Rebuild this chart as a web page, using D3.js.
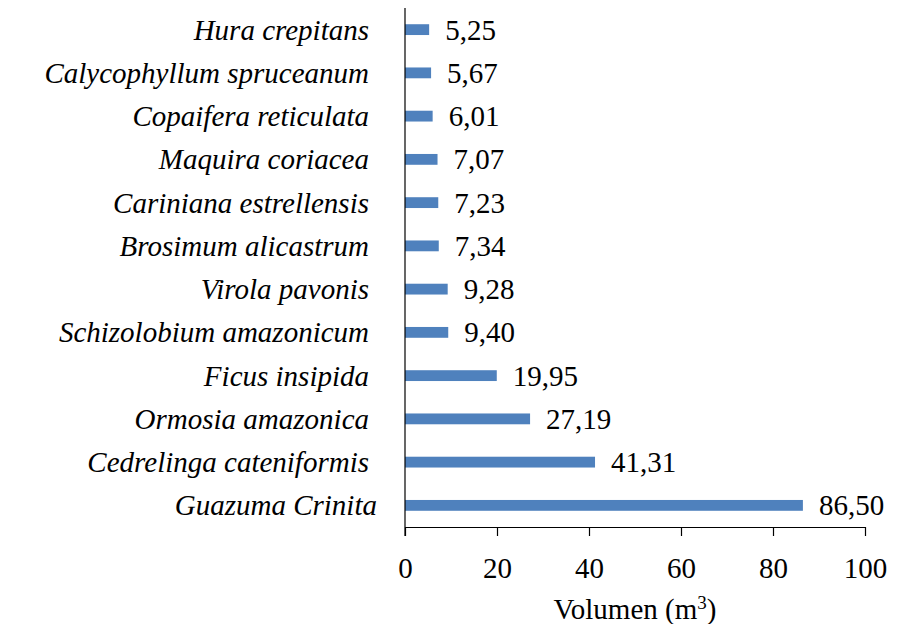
<!DOCTYPE html>
<html><head><meta charset="utf-8"><script src="https://cdn.jsdelivr.net/npm/d3@7"></script></head>
<body style="margin:0">
<svg id="chart" width="914" height="624"></svg>
<script>
// data, top to bottom as in the figure
var species = [
    "Hura crepitans",
    "Calycophyllum spruceanum",
    "Copaifera reticulata",
    "Maquira coriacea",
    "Cariniana estrellensis",
    "Brosimum alicastrum",
    "Virola pavonis",
    "Schizolobium amazonicum",
    "Ficus insipida",
    "Ormosia amazonica",
    "Cedrelinga cateniformis",
    "Guazuma Crinita"
];
var volumen = [5.25, 5.67, 6.01, 7.07, 7.23, 7.34, 9.28, 9.40, 19.95, 27.19, 41.31, 86.50];
var xTicks = [0, 20, 40, 60, 80, 100];

var FONT = "'Liberation Serif'";

var margin = {top: 8, left: 405, right: 49, bottom: 97};
var width = 914 - margin.left - margin.right;
var height = 624 - margin.top - margin.bottom;

var svg = d3.select("#chart");
var g = svg.append("g")
    .attr("transform", "translate(" + margin.left + "," + margin.top + ")");

var x = d3.scaleLinear().domain([0, 100]).range([0, width]);
var y = d3.scaleBand().domain(species).range([0, height]).paddingInner(0.75).paddingOuter(0.375);

var data = species.map(function(s, i) { return {name: s, value: volumen[i]}; });

// bars
g.selectAll("rect.bar")
    .data(data)
    .enter()
    .append("rect")
    .attr("class", "bar")
    .attr("x", 0)
    .attr("y", function(d) { return y(d.name); })
    .attr("width", function(d) { return x(d.value); })
    .attr("height", y.bandwidth())
    .style("fill", "#4f81bd")
;

// x axis
var xAxis = g.append("g")
    .attr("transform", "translate(0," + height + ")")
    .call(d3.axisBottom(x).tickValues(xTicks).tickSize(9).tickSizeOuter(0).tickPadding(21));
xAxis.attr("font-family", FONT).attr("font-size", 29);
xAxis.select(".domain").attr("stroke", "#000").attr("stroke-width", 1.2);
xAxis.selectAll(".tick line").attr("stroke", "#000").attr("stroke-width", 1.2);
xAxis.selectAll(".tick text")
    .style("font-family", FONT)
    .style("font-size", "29px")
    .attr("fill", "#000");

// y axis line, no ticks
g.append("line")
    .attr("x1", 0).attr("x2", 0)
    .attr("y1", 0).attr("y2", height + 9)
    .attr("stroke", "#000")
    .attr("stroke-width", 1.2)
;

// category labels
g.selectAll("text.cat")
    .data(data)
    .enter()
    .append("text")
    .attr("class", "cat")
    .attr("x", function(d, i) { return i === species.length - 1 ? -28 : -36; })
    .attr("y", function(d) { return y(d.name) + y.bandwidth() / 2 + 10; })
    .attr("text-anchor", "end")
    .style("font-family", FONT)
    .style("font-size", "29px")
    .style("font-style", "italic")
    .text(function(d) { return d.name; })
;

// value labels
var fmt = function(v) { return v.toFixed(2).replace(".", ","); };

g.selectAll("rect.valbg")
    .data(data)
    .enter()
    .append("rect")
    .attr("class", "valbg")
    .attr("x", function(d) { return x(d.value) + 8; })
    .attr("y", function(d) { return y(d.name) + y.bandwidth() / 2 - 14; })
    .attr("width", 85)
    .attr("height", 32)
    .style("fill", "#fff")
;
g.selectAll("text.val")
    .data(data)
    .enter()
    .append("text")
    .attr("class", "val")
    .attr("x", function(d) { return x(d.value) + 16; })
    .attr("y", function(d) { return y(d.name) + y.bandwidth() / 2 + 10; })
    .style("font-family", FONT)
    .style("font-size", "29px")
    .text(function(d) { return fmt(d.value); })
;

// axis title
var title = svg.append("text")
    .attr("x", margin.left + width / 2)
    .attr("y", 619)
    .attr("text-anchor", "middle")
    .style("font-family", FONT)
    .style("font-size", "29px");
title.append("tspan").text("Volumen (m");
title.append("tspan").attr("dy", -10).style("font-size", "19px").text("3");
title.append("tspan").attr("dy", 10).text(")");
</script>
</body></html>
